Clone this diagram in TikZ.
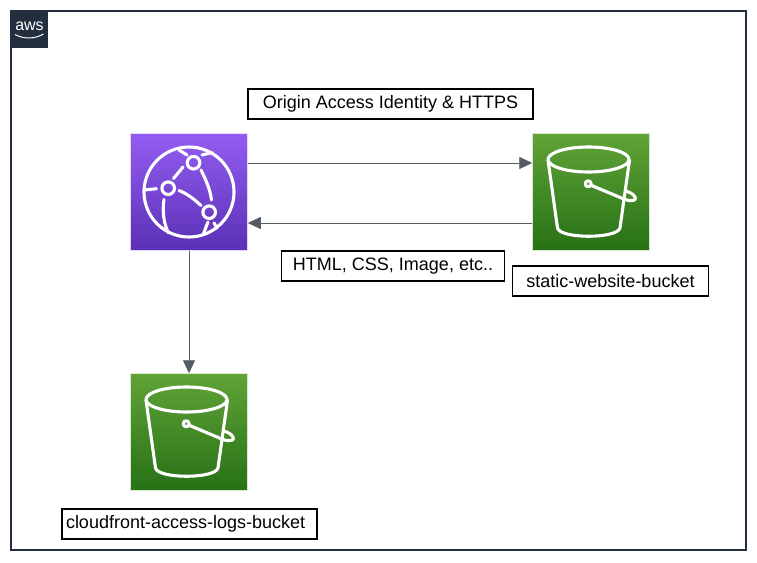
\documentclass[tikz,border=0pt]{standalone}
\usepackage{fontspec}
\setmainfont{Liberation Sans}
\usetikzlibrary{arrows.meta}
\definecolor{awsink}{HTML}{232F3E}
\definecolor{flowgray}{HTML}{545B64}
\definecolor{cfTop}{HTML}{945DF2}
\definecolor{cfBottom}{HTML}{5A30B5}
\definecolor{sTop}{HTML}{60A337}
\definecolor{sBottom}{HTML}{277116}
\tikzset{
	labelbox/.style = {draw, line width = 1.4pt, minimum height = 30pt, inner sep = 0pt, font = \fontsize{18}{21}\selectfont},
	tile/.style = {minimum size = 117pt, inner sep = 0pt, draw = white!75!#1, line width = 0.5pt},
	purpletile/.style = {tile = cfTop, top color = cfTop, bottom color = cfBottom},
	greentile/.style = {tile = sTop, top color = sTop, bottom color = sBottom},
	flow/.style = {draw = flowgray, line width = 0.9pt, -{Triangle[length = 13pt, width = 12pt]}},
	glyph/.style = {draw = white, line width = 3.1pt, line cap = round, line join = round},
	bucketicon/.pic = {
		\draw[glyph] (-2.5,-32.5) ellipse[x radius = 40.5, y radius = 12.5];
		\draw[glyph] (-43,-32) -- (-33.5,36) .. controls (-31,47) and (26,47) .. (29,36) -- (38.5,-32);
		\draw[glyph] (-2.8,-8.2) circle[radius = 3];
		\draw[glyph] (-0.5,-7) -- (34,7.5) .. controls (42,10) and (46,8) .. (44,5) .. controls (42,1.5) and (38,0) .. (35,-1);
	},
	globeicon/.pic = {
		\draw[glyph] (0,0) circle[radius = 45];
		\draw[glyph] (4.5,-29.3) circle[radius = 6.3];
		\draw[glyph] (-20.8,-3.8) circle[radius = 6.3];
		\draw[glyph] (20.2,20.2) circle[radius = 6.3];
		\draw[glyph] (-32.5,-3.3) -- (-45,-2);
		\draw[glyph] (-15.5,-13.5) -- (-6,-25);
		\draw[glyph] (12,-22) .. controls (17,-12) and (21,-3) .. (22.5,8);
		\draw[glyph] (-10,-1.5) .. controls (-1,2) and (6,8) .. (12,13.5);
		\draw[glyph] (-25,7.5) .. controls (-27,20) and (-25,32) .. (-20.5,41);
		\draw[glyph] (-2,-37) -- (-10,-42);
		\draw[glyph] (13,-37) -- (23,-39.5);
		\draw[glyph] (19,30) -- (14,43);
		\draw[glyph] (25,31) -- (28,36);
	},
}
\begin{document}
\begin{tikzpicture}[x = 1pt, y = -1pt]
	\useasboundingbox (0,0) rectangle (757,562);
	\node[draw = awsink, line width = 1.2pt, minimum width = 735pt, minimum height = 539pt, inner sep = 0pt] (frame) at (378.5,280.5) {};
	\node[fill = awsink, minimum size = 37pt, inner sep = 0pt] (awslogo) at (29.5,29.5) {};
	\node[text = white, inner sep = 0pt, font = \fontsize{16}{16}\selectfont] (awstext) at (29.5,26) {aws};
	\draw[white, line width = 1pt] (15,34.5) .. controls (24,39.5) and (35,39) .. (43.5,34);

	\node[purpletile] (cloudfront) at (189,192) {};
	\node[greentile] (websitebucket) at (591,192) {};
	\node[greentile] (logsbucket) at (189,432) {};
	\pic at (cloudfront) {globeicon};
	\pic at (websitebucket) {bucketicon};
	\pic at (logsbucket) {bucketicon};

	\draw[flow] ([yshift = 29pt]cloudfront.east) -- ([yshift = 29pt]websitebucket.west);
	\draw[flow] ([yshift = -31pt]websitebucket.west) -- ([yshift = -31pt]cloudfront.east);
	\draw[flow] (cloudfront.south) -- (logsbucket.north);

	\node[labelbox, minimum width = 285pt] (originlabel) at (390.5,104) {Origin Access Identity \& HTTPS};
	\node[labelbox, minimum width = 223pt] (contentlabel) at (393,266) {HTML, CSS, Image, etc..};
	\node[labelbox, minimum width = 196pt] (websitelabel) at (610.5,281) {static-website-bucket};
	\node[labelbox, text width = 247pt, inner xsep = 4pt, align = left] (logslabel) at (189.5,524) {cloudfront-access-logs-bucket};
\end{tikzpicture}
\end{document}
